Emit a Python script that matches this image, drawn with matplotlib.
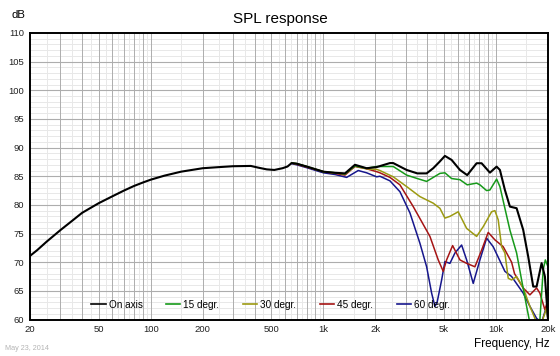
import matplotlib
matplotlib.use("Agg")
import matplotlib.pyplot as plt
import numpy as np

plt.rcParams['font.family'] = ['Liberation Sans', 'DejaVu Sans']

# ---------------- data ----------------
on_f = [20, 22, 25, 30, 35, 40, 45, 50, 60, 70, 80, 90, 100, 120, 150, 200, 250, 300, 380,
        420, 470, 520, 580, 620, 655, 700, 800, 1000, 1170, 1334, 1524, 1781, 2035, 2430,
        2539, 3036, 3500, 3964, 4328, 4700, 5058, 5531, 6180, 6810, 7720, 8252, 9218, 10080,
        10532, 11258, 12036, 13160, 14370, 15360, 16420, 17180, 18364, 19192, 20000]
on_db = [71.1, 72.1, 73.6, 75.6, 77.2, 78.6, 79.5, 80.3, 81.5, 82.5, 83.3, 83.9, 84.4, 85.1,
         85.8, 86.4, 86.6, 86.75, 86.8, 86.5, 86.2, 86.1, 86.4, 86.7, 87.3, 87.2, 86.7, 85.8,
         85.6, 85.5, 87.0, 86.4, 86.6, 87.3, 87.3, 86.1, 85.5, 85.5, 86.4, 87.5, 88.55, 87.85,
         86.1, 85.2, 87.27, 87.27, 85.63, 86.68, 86.1, 82.6, 79.7, 79.42, 75.64, 70.98, 65.75,
         65.75, 69.83, 67.5, 60.0]

d15_f = [655, 700, 800, 1000, 1170, 1334, 1524, 1781, 2035, 2539, 3036, 3500, 3964, 4733,
         5058, 5531, 6180, 6810, 7720, 8068, 8820, 9218, 10080, 10532, 11258, 12036, 13160,
         14066, 15036, 15566, 16420, 17180, 17954, 18762, 19300, 20000]
d15_db = [87.3, 87.2, 86.7, 85.8, 85.6, 85.4, 86.8, 86.4, 86.7, 86.7, 85.2, 84.6, 84.1, 85.5,
          85.6, 84.6, 84.4, 83.5, 83.8, 83.5, 82.5, 82.6, 84.5, 83.2, 79.4, 75.6, 71.6, 66.9,
          62.3, 60.0, 58.5, 57.5, 60.0, 68.7, 70.4, 69.2]

d30_f = [655, 700, 800, 1000, 1170, 1334, 1524, 1781, 2035, 2126, 2539, 3036, 3625, 4328,
         4733, 5058, 5408, 6040, 6758, 7720, 8430, 9428, 9852, 10296, 10774, 11258, 11764,
         12310, 13160, 14370, 15712, 16796, 17954, 19630, 20000]
d30_db = [87.3, 87.2, 86.7, 85.8, 85.6, 85.4, 86.8, 86.3, 86.2, 86.0, 84.9, 83.2, 81.45, 80.3,
          79.4, 77.7, 78.0, 78.8, 75.9, 74.5, 76.2, 78.8, 79.0, 77.4, 72.7, 71.6, 67.2, 66.9,
          67.5, 65.5, 62.3, 60.2, 58.5, 62.0, 60.0]

d45_f = [655, 700, 800, 1000, 1170, 1334, 1524, 1781, 2035, 2126, 2430, 2777, 3316, 4142,
         4627, 4946, 5173, 5605, 6180, 6758, 7547, 8252, 9010, 9852, 11006, 12310, 12800,
         14370, 15712, 17180, 17954, 19192, 20000]
d45_db = [87.3, 87.1, 86.6, 85.8, 85.5, 85.2, 86.7, 86.3, 85.8, 85.6, 84.8, 83.5, 79.7, 74.5,
          70.4, 68.4, 70.4, 72.9, 70.4, 69.8, 69.2, 72.1, 75.2, 73.9, 72.7, 70.0, 68.0, 65.5,
          64.3, 65.5, 64.6, 61.7, 63.4]

d60_f = [655, 700, 800, 1000, 1170, 1364, 1592, 1781, 2035, 2126, 2430, 2777, 3173, 3625,
         3964, 4237, 4428, 4566, 4842, 5058, 5408, 5780, 6320, 6758, 7378, 8068, 8820, 9632,
         11258, 12310, 14370, 15712, 17180, 18364, 19630, 20000]
d60_db = [87.2, 87.0, 86.5, 85.6, 85.3, 84.8, 86.0, 85.6, 84.9, 85.0, 84.2, 82.3, 78.6, 73.3,
          69.2, 64.6, 62.3, 63.1, 66.9, 70.1, 69.8, 71.6, 73.0, 70.4, 66.3, 70.4, 74.2, 72.7,
          68.4, 67.5, 64.6, 62.3, 60.2, 59.5, 62.3, 60.0]

series_labels = ["On axis", "15 degr.", "30 degr.", "45 degr.", "60 degr."]
x_tick_vals = [20, 50, 100, 200, 500, 1000, 2000, 5000, 10000, 20000]
x_tick_labels = ["20", "50", "100", "200", "500", "1k", "2k", "5k", "10k", "20k"]
y_tick_vals = [60, 65, 70, 75, 80, 85, 90, 95, 100, 105, 110]

# ---------------- figure ----------------
W, H = 560, 356
fig = plt.figure(figsize=(W / 100, H / 100), dpi=100)
ax = fig.add_axes([30 / W, 1 - 319.5 / H, 518 / W, 286.5 / H])
ax.set_xscale('log')
ax.set_xlim(20, 20000)
ax.set_ylim(60, 110)

# grid
major_x = [m * 10 ** e for e in range(1, 5) for m in range(1, 10)]
minor_x = [(m + 0.5) * 10 ** e for e in range(1, 5) for m in range(1, 10)]
for v in minor_x:
    if 20 < v < 20000:
        ax.axvline(v, color='#e8e8e8', lw=0.7, zorder=0)
for v in range(61, 110):
    if v % 5:
        ax.axhline(v, color='#e8e8e8', lw=0.7, zorder=0)
for v in major_x:
    if 20 < v < 20000:
        ax.axvline(v, color='#adadad', lw=0.7, zorder=0.5)
for v in y_tick_vals[1:-1]:
    ax.axhline(v, color='#adadad', lw=0.8, zorder=0.5)

colors = ['#000000', '#17991a', '#9c9a12', '#a51414', '#16168c']
lws = [1.5, 1.1, 1.1, 1.1, 1.1]
data = [(on_f, on_db), (d15_f, d15_db), (d30_f, d30_db), (d45_f, d45_db), (d60_f, d60_db)]
handles = []
for (f, d), c, lw, lab, z in zip(data, colors, lws, series_labels, [6, 5, 4, 3, 2]):
    h, = ax.plot(f, d, color=c, lw=lw, label=lab, zorder=z, solid_joinstyle='round')
    handles.append(h)

ax.set_xticks(x_tick_vals)
ax.set_xticklabels(x_tick_labels)
ax.xaxis.set_minor_locator(matplotlib.ticker.NullLocator())
ax.set_yticks(y_tick_vals)
ax.tick_params(axis='both', length=0, labelsize=6.8, colors='#222222')
ax.tick_params(axis='x', pad=4)
ax.tick_params(axis='y', pad=4)
for s in ax.spines.values():
    s.set_color('black')
    s.set_linewidth(1.4)
    s.set_zorder(10)

leg = ax.legend(handles=handles, loc='center left', bbox_to_anchor=(0.118, 0.052),
                ncol=5, frameon=False, fontsize=7.2, handlelength=1.45,
                handletextpad=0.3, columnspacing=2.35, borderpad=0, borderaxespad=0)
leg.set_zorder(20)
for lh in leg.get_lines():
    lh.set_linewidth(1.2)

fig.text(0.5, 1 - 19 / H, "SPL response", ha='center', va='center', fontsize=11)
fig.text(11 / W, 1 - 15 / H, "dB", ha='left', va='center', fontsize=8.2)
fig.text(550 / W, 1 - 344 / H, "Frequency, Hz", ha='right', va='center', fontsize=8.5)
fig.text(5 / W, 1 - 349 / H, "May 23, 2014", ha='left', va='center', fontsize=5.2,
         color='#b4b4b4')

fig.savefig("out.png", dpi=100)
